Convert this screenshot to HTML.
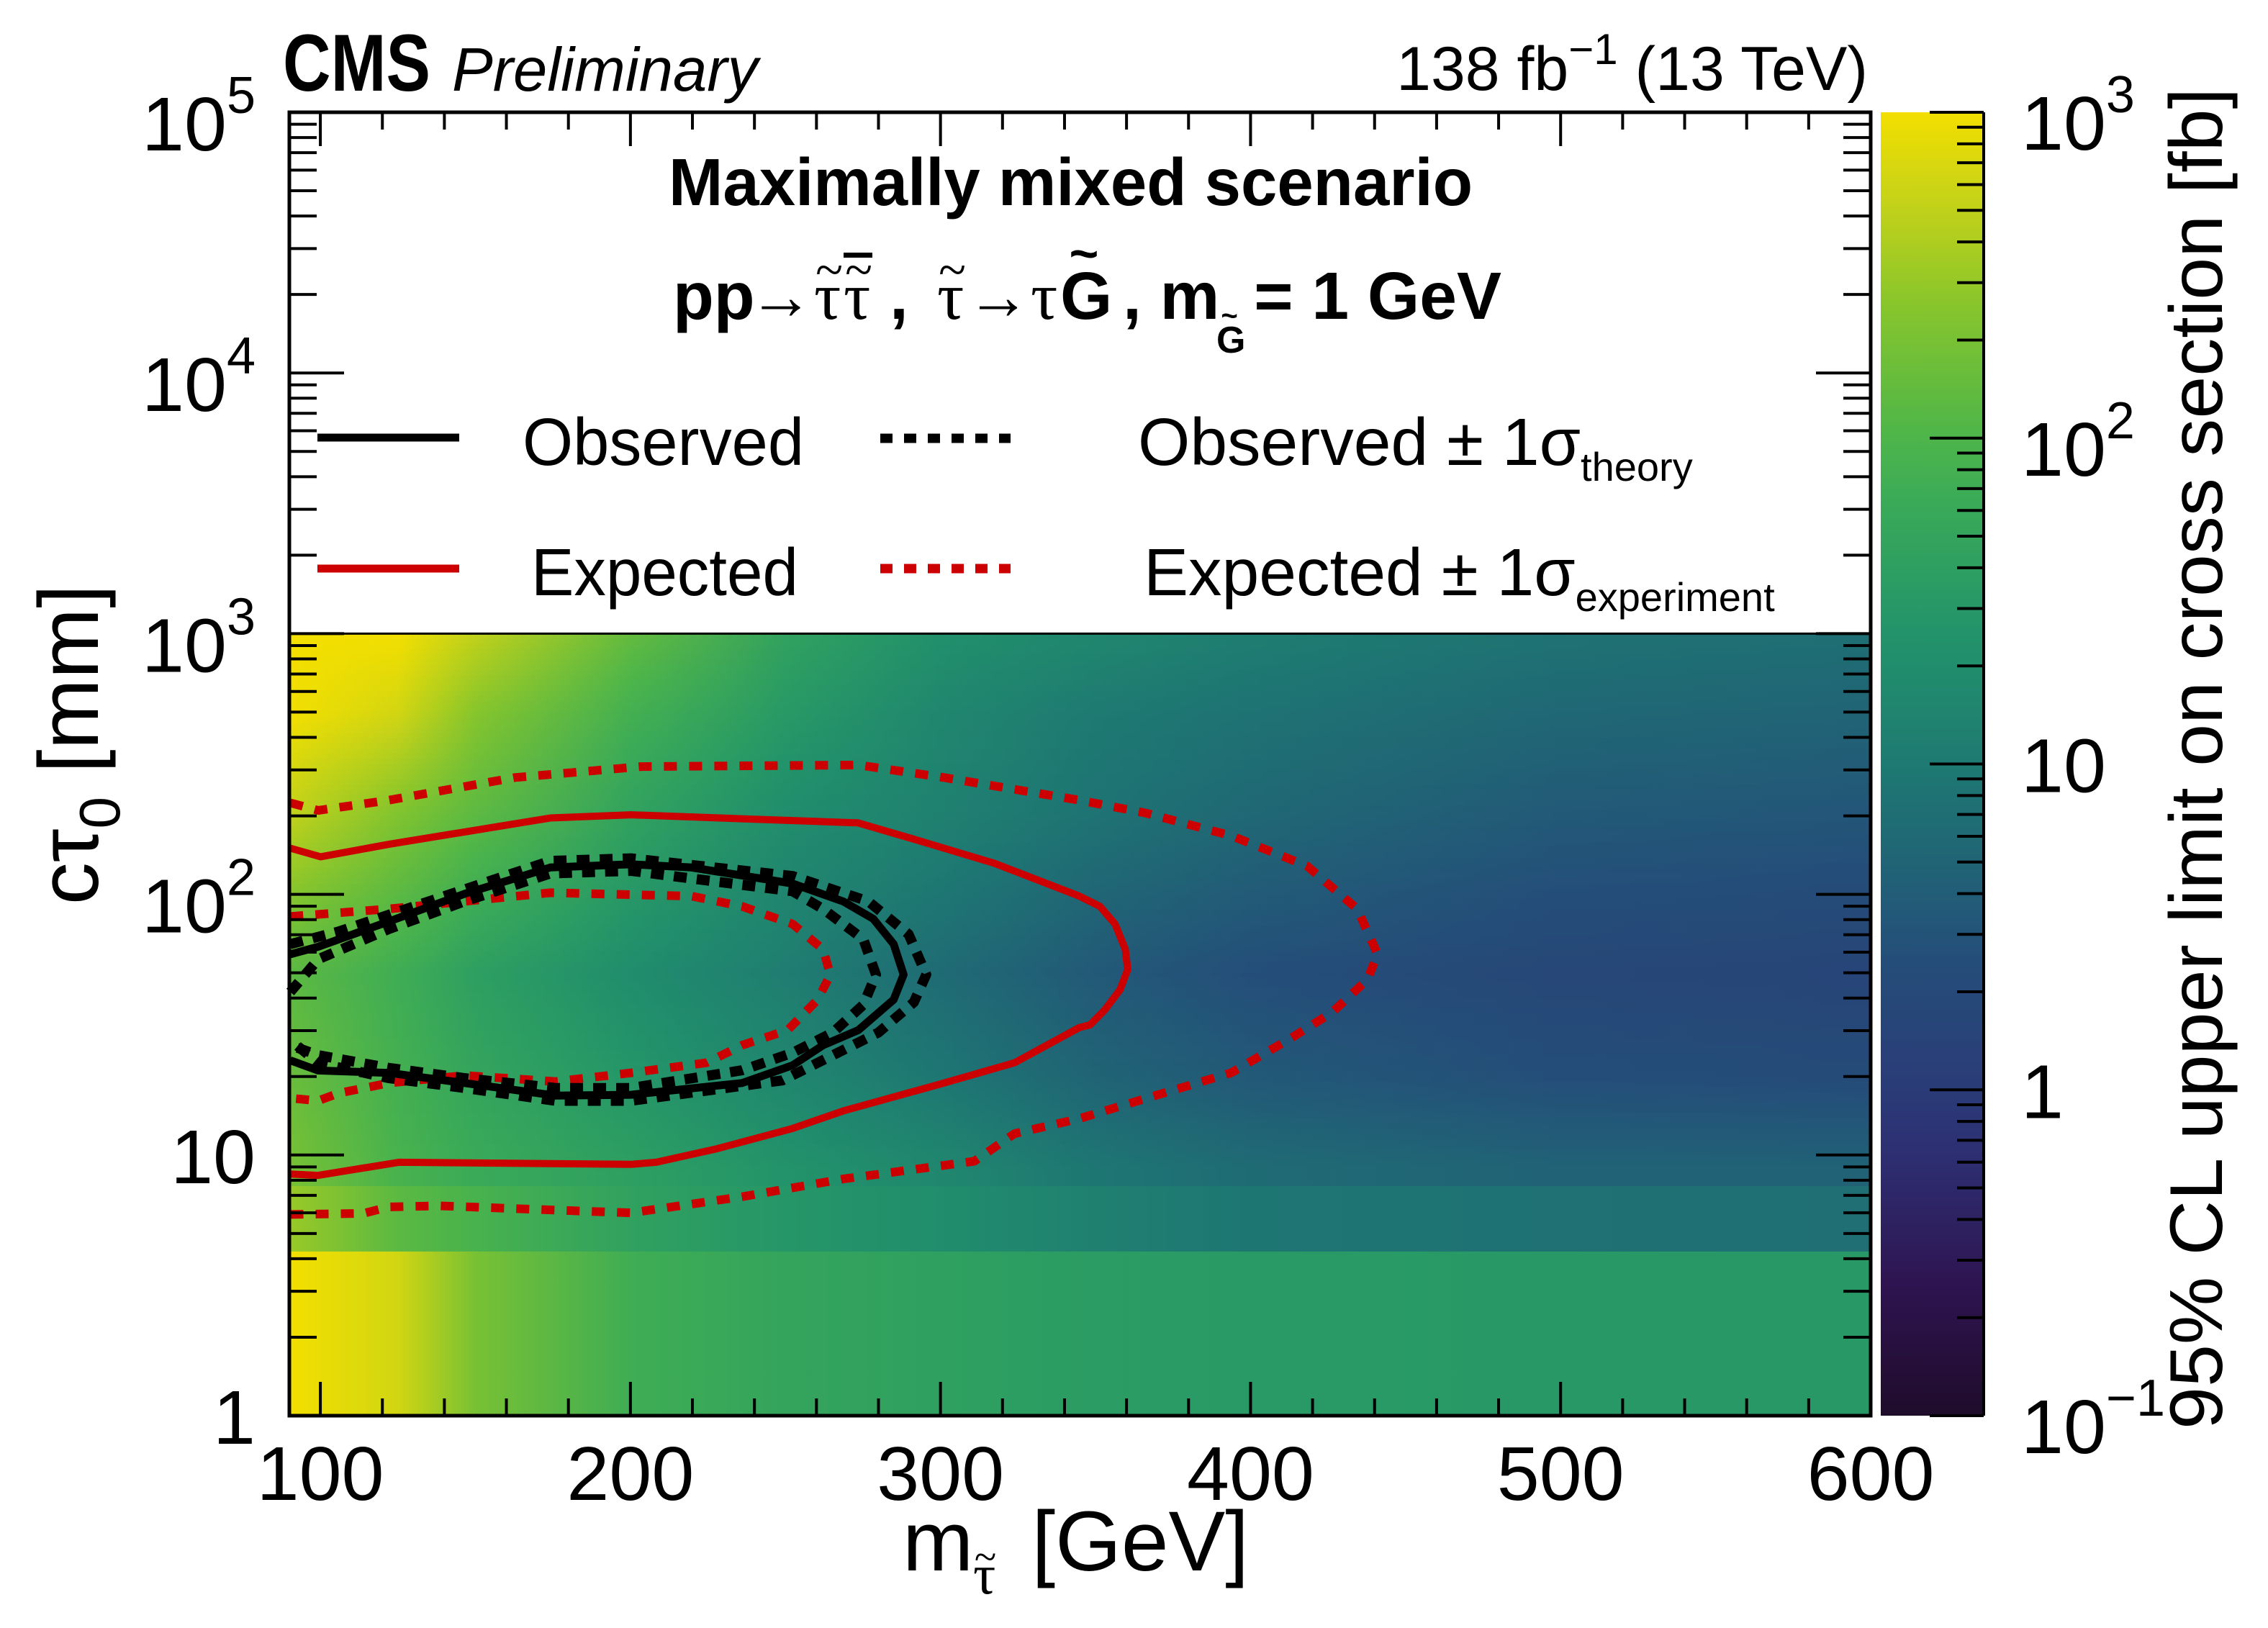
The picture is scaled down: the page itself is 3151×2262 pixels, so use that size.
<!DOCTYPE html>
<html><head><meta charset="utf-8"><style>
html,body{margin:0;padding:0;background:#fff;}
svg{display:block;font-family:"Liberation Sans",sans-serif;}
</style></head><body>
<svg id="chart" xmlns="http://www.w3.org/2000/svg" width="3151" height="2262" viewBox="0 0 3151 2262">
<defs id="defs"></defs>
<g id="heatmap"></g>
<g id="contours"></g>
<g id="axes"></g>
<g id="colorbar"></g>

<text x="393" y="126" font-size="112" font-weight="bold" textLength="205" lengthAdjust="spacingAndGlyphs">CMS</text>
<text x="628" y="126" font-size="85" font-style="italic">Preliminary</text>
<text x="2595" y="125" font-size="86" text-anchor="end">138 fb<tspan font-size="60" dy="-36">−1</tspan><tspan dy="36">&#160;(13 TeV)</tspan></text>

<text x="929" y="285" font-size="93" font-weight="bold" textLength="1117" lengthAdjust="spacingAndGlyphs">Maximally mixed scenario</text>

<g font-size="93">
<text x="935" y="443" font-weight="bold">pp</text>
<text x="1040" y="443" font-family="Liberation Serif, serif" textLength="90" lengthAdjust="spacingAndGlyphs">→</text>
<text x="1131" y="443" font-family="Liberation Serif, serif">τ</text>
<text x="1152" y="398" font-family="Liberation Serif, serif" font-size="70" text-anchor="middle">~</text>
<text x="1172" y="443" font-family="Liberation Serif, serif">τ</text>
<text x="1193" y="398" font-family="Liberation Serif, serif" font-size="70" text-anchor="middle">~</text>
<rect x="1172" y="351" width="40" height="7" fill="#000"/>
<text x="1236" y="443" font-weight="bold">,</text>
<text x="1302" y="443" font-family="Liberation Serif, serif">τ</text>
<text x="1323" y="398" font-family="Liberation Serif, serif" font-size="70" text-anchor="middle">~</text>
<text x="1343" y="443" font-family="Liberation Serif, serif" textLength="88" lengthAdjust="spacingAndGlyphs">→</text>
<text x="1432" y="443" font-family="Liberation Serif, serif">τ</text>
<text x="1473" y="443" font-weight="bold">G</text>
<text x="1506" y="376" font-weight="bold" font-size="70" text-anchor="middle">~</text>
<text x="1560" y="443" font-weight="bold">, m</text>
<text x="1690" y="490" font-weight="bold" font-size="52">G</text>
<text x="1708" y="452" font-weight="bold" font-size="40" text-anchor="middle">~</text>
<text x="2086" y="443" font-weight="bold" text-anchor="end">= 1 GeV</text>
</g>

<g>
<line x1="441" y1="608" x2="638" y2="608" stroke="#000" stroke-width="11"/>
<text x="726" y="646" font-size="93" textLength="391" lengthAdjust="spacingAndGlyphs">Observed</text>
<line x1="1223" y1="609" x2="1404" y2="609" stroke="#000" stroke-width="13" stroke-dasharray="17 16"/>
<text x="1581" y="646" font-size="93">Observed ± 1σ<tspan font-size="56" dy="22">theory</tspan></text>
<line x1="441" y1="790" x2="638" y2="790" stroke="#cc0000" stroke-width="11"/>
<text x="738" y="827" font-size="93" textLength="371" lengthAdjust="spacingAndGlyphs">Expected</text>
<line x1="1223" y1="790" x2="1404" y2="790" stroke="#cc0000" stroke-width="13" stroke-dasharray="17 16"/>
<text x="1589" y="827" font-size="93">Expected ± 1σ<tspan font-size="56" dy="22">experiment</tspan></text>
</g>

<g>
<text x="1254" y="2182" font-size="118">m</text>
<text x="1352" y="2214" font-size="78" font-family="Liberation Serif, serif">τ</text>
<text x="1369" y="2182" font-size="56" font-family="Liberation Serif, serif" text-anchor="middle">~</text>
<text x="1735" y="2182" font-size="118" text-anchor="end">[GeV]</text>
</g>
<text transform="translate(136,812) rotate(-90)" font-size="118" text-anchor="end">cτ<tspan font-size="80" dy="30">0</tspan><tspan dy="-30">&#160;[mm]</tspan></text>
<text transform="translate(3087,122) rotate(-90)" font-size="104" text-anchor="end" textLength="1864" lengthAdjust="spacingAndGlyphs">95% CL upper limit on cross section [fb]</text>
</svg>
<script>
// ---------- data ----------
const massNodes = [90,125,150,200,250,300,350,400,500,600];
// log10(sigma/fb) per ctau row (smooth region)
const rowLogCtau = [0.95,1.3,1.7,2.3,2.7,3.0];
const limRow095 = [2.3,1.95,1.8,1.6,1.4,1.2,0.95,0.8,0.68,0.68];
const limRow130 = [2.2,1.9,1.7,1.45,1.2,0.95,0.7,0.55,0.4,0.35];
const limRow170 = [2.1,1.85,1.6,1.3,1.05,0.8,0.55,0.4,0.25,0.2];
const limRow230 = [2.7,2.35,2.1,1.65,1.3,1.1,0.9,0.75,0.55,0.5];
const limRow270 = [3.0,2.8,2.4,1.9,1.5,1.2,1.0,0.9,0.75,0.7];
const limRow300 = [3.0,3.0,2.7,2.15,1.65,1.35,1.2,1.05,0.9,0.85];
const bandLowEdges = [0,0.632,0.883];
const limBandLow = [3.0,2.8,2.3,1.85,1.7,1.62,1.55,1.52,1.5,1.5];
const limBandMid = [2.5,2.1,1.95,1.65,1.45,1.3,1.1,0.95,0.88,0.85];

const expMass = [90.3,100.1,122.1,174.2,200.2,273.5,293.0,317.4,344.8,351.4,356.3,359.6,360.4,357.9,353.0,348.2,344.8,323.9,301.1,268.6,252.3,227.9,208.3,200.2,125.3,99.3,90.3];
const expLogCtau = [2.177,2.144,2.192,2.293,2.305,2.274,2.206,2.119,1.993,1.954,1.886,1.789,1.712,1.634,1.557,1.499,1.489,1.354,1.276,1.169,1.102,1.024,0.972,0.964,0.972,0.922,0.927];
const expOutMass = [90.3,99.3,122.1,162.8,203.5,273.5,301.1,344.8,366.1,393.7,418.2,434.4,441.0,437.7,426.3,413.3,393.7,369.3,344.9,323.9,310.9,268.6,236.0,208.3,200.2,138.3,122.1,113.9,90.3];
const expOutLogCtau = [2.351,2.322,2.361,2.448,2.490,2.496,2.448,2.361,2.312,2.225,2.109,1.944,1.770,1.673,1.547,1.450,1.315,1.228,1.140,1.082,0.976,0.908,0.840,0.792,0.778,0.805,0.801,0.776,0.772];
const expInMass = [90.3,122.1,174.2,219.7,236.0,252.3,262.1,264.5,260.4,250.7,236.0,224.6,200.2,175.8,146.5,122.1,105.8,99.3,90.3];
const expInLogCtau = [1.915,1.944,2.006,1.993,1.954,1.886,1.789,1.692,1.596,1.479,1.421,1.354,1.315,1.282,1.305,1.276,1.237,1.208,1.218];
const obsMass = [90.3,99.3,122.1,146.5,174.2,200.2,219.7,252.3,268.6,278.3,284.9,288.1,284.9,273.5,262.1,252.3,236.0,200.2,175.8,146.5,122.1,99.3,90.3];
const obsLogCtau = [1.770,1.799,1.896,2.002,2.103,2.115,2.103,2.041,1.973,1.906,1.809,1.692,1.596,1.479,1.421,1.344,1.276,1.231,1.228,1.276,1.315,1.324,1.363];
const obsUpMass = [90.3,105.8,130.2,154.6,174.2,200.2,252.3,276.7,289.7,295.4,291.4,280.0,265.3,249.0,200.2,175.8,146.5,122.1,99.3,90.3];
const obsUpLogCtau = [1.809,1.857,1.954,2.051,2.128,2.138,2.070,1.973,1.847,1.692,1.586,1.470,1.383,1.286,1.208,1.208,1.257,1.295,1.353,1.441];
const obsDnMass = [90.3,99.3,122.1,146.5,174.2,200.2,252.3,262.1,275.1,279.2,275.1,265.3,252.3,236.0,200.2,175.8,146.5,122.1,99.3,90.3];
const obsDnLogCtau = [1.625,1.751,1.867,1.973,2.080,2.090,2.012,1.944,1.828,1.692,1.576,1.470,1.392,1.325,1.257,1.257,1.295,1.334,1.383,1.421];

const xMajorTicks = [100,200,300,400,500,600];
const xTickLabels = ["100","200","300","400","500","600"];
const yDecades = [0,1,2,3,4,5];
const yBase = ["1","10","10","10","10","10"];
const yExp = ["","","2","3","4","5"];
const zDecades = [-1,0,1,2,3];
const zBase = ["10","1","10","10","10"];
const zExp = ["−1","","","2","3"];

// ---------- geometry ----------
const NS = "http://www.w3.org/2000/svg";
const PL = 402, PR = 2599, PT = 156, PB = 1967;
const XMIN = 90, XMAX = 600, YMIN = 0, YMAX = 5;
const X = m => PL + (m - XMIN) / (XMAX - XMIN) * (PR - PL);
const Y = lc => PB - (lc - YMIN) / (YMAX - YMIN) * (PB - PT);
const CBL = 2613, CBR = 2756;
const ZMIN = -1, ZMAX = 3;
const Z = v => PB - (v - ZMIN) / (ZMAX - ZMIN) * (PB - PT);

function mk(tag, attrs, parent) {
  const e = document.createElementNS(NS, tag);
  for (const k in attrs) e.setAttribute(k, attrs[k]);
  parent.appendChild(e);
  return e;
}

const cmT = [0,0.1,0.2,0.25,0.35,0.45,0.5,0.6,0.7,0.75,0.85,0.93,1.0];
const cmC = ["#1f0c2a","#2e1450","#2d2f72","#2a3b77","#244e79","#1f6b74","#1e7a72","#22936a","#3aaa58","#4db54a","#86c52c","#c4d219","#f3df00"];
function hex2rgb(h){return [parseInt(h.slice(1,3),16),parseInt(h.slice(3,5),16),parseInt(h.slice(5,7),16)];}
function colorOf(v) {
  let t = (v - ZMIN) / (ZMAX - ZMIN);
  t = Math.max(0, Math.min(1, t));
  for (let i = 0; i < cmT.length - 1; i++) {
    if (t <= cmT[i+1]) {
      const f = (t - cmT[i]) / (cmT[i+1] - cmT[i]);
      const a = hex2rgb(cmC[i]), b = hex2rgb(cmC[i+1]);
      return "rgb(" + a.map((c,j)=>Math.round(c + (b[j]-c)*f)).join(",") + ")";
    }
  }
  return cmC[cmC.length-1];
}

const defs = document.getElementById("defs");
const heat = document.getElementById("heatmap");
let gid = 0;
function gradRow(vals, y0, y1, name) {
  const id = "g" + (gid++);
  const lg = mk("linearGradient", {id: id, gradientUnits: "userSpaceOnUse", x1: PL, y1: 0, x2: PR, y2: 0}, defs);
  massNodes.forEach((m, i) => {
    mk("stop", {offset: ((X(m) - PL) / (PR - PL)).toFixed(4), "stop-color": colorOf(vals[i])}, lg);
  });
  const r = mk("rect", {x: PL, y: Math.min(y0,y1), width: PR - PL, height: Math.abs(y1 - y0) + 0.8, fill: "url(#" + id + ")"}, heat);
  
  
}
gradRow(limBandLow, Y(bandLowEdges[0]), Y(bandLowEdges[1]), 'heat-band-low');
gradRow(limBandMid, Y(bandLowEdges[1]), Y(bandLowEdges[2]), 'heat-band-mid');
const rows = [limRow095, limRow130, limRow170, limRow230, limRow270, limRow300];
const step = 0.02;
for (let lc = bandLowEdges[2]; lc < 3.0 - 1e-9; lc += step) {
  const c = Math.min(3.0, lc + step / 2);
  let vals;
  if (c <= rowLogCtau[0]) vals = rows[0];
  else {
    let k = 0;
    while (k < rowLogCtau.length - 2 && c > rowLogCtau[k+1]) k++;
    const f = Math.min(1, (c - rowLogCtau[k]) / (rowLogCtau[k+1] - rowLogCtau[k]));
    vals = rows[k].map((v, i) => v + (rows[k+1][i] - v) * f);
  }
  gradRow(vals, Y(lc), Y(Math.min(3.0, lc + step)), 'heat-cell-row');
}

const cg = document.getElementById("contours");
function contour(ms, ls, color, w, dash, name) {
  const d = ms.map((m, i) => (i ? "L" : "M") + X(m).toFixed(1) + "," + Y(ls[i]).toFixed(1)).join(" ");
  const p = mk("path", {d: d, fill: "none", stroke: color, "stroke-width": w, "stroke-linejoin": "round"}, cg);
  if (dash) p.setAttribute("stroke-dasharray", dash);
  
  
}
contour(expOutMass, expOutLogCtau, "#cc0000", 12, "18 17", "expected-plus-1sigma-contour");
contour(expInMass, expInLogCtau, "#cc0000", 12, "18 17", "expected-minus-1sigma-contour");
contour(expMass, expLogCtau, "#cc0000", 10, null, "expected-contour");
contour(obsUpMass, obsUpLogCtau, "#000", 14, "18 14", "observed-plus-theory-contour");
contour(obsDnMass, obsDnLogCtau, "#000", 14, "18 14", "observed-minus-theory-contour");
contour(obsMass, obsLogCtau, "#000", 11, null, "observed-contour");

const ax = document.getElementById("axes");
const border = mk("rect", {x: PL, y: PT, width: PR - PL, height: PB - PT, fill: "none", stroke: "#000", "stroke-width": 5}, ax);


const l3 = mk("line", {x1: PL, y1: Y(3), x2: PR, y2: Y(3), stroke: "#000", "stroke-width": 3}, ax);


function tick(x1,y1,x2,y2,name){
  const t = mk("line",{x1:x1,y1:y1,x2:x2,y2:y2,stroke:"#000","stroke-width":4},ax);
  
  
}
for (let m = 100; m <= 600; m += 20) {
  const major = (m % 100 === 0);
  const L = major ? 47 : 24;
  tick(X(m), PB, X(m), PB - L, 'x-tick');
  tick(X(m), PT, X(m), PT + L, 'x-tick-top');
}
xMajorTicks.forEach((m, i) => {
  const t = mk("text", {x: X(m), y: 2084, "font-size": 106, "text-anchor": "middle"}, ax);
  t.textContent = xTickLabels[i];
  
  
});
for (let d = 0; d < 5; d++) {
  for (let k = 1; k <= 9; k++) {
    const lc = d + Math.log10(k);
    const L = k === 1 ? 76 : 38;
    tick(PL, Y(lc), PL + L, Y(lc), 'y-tick');
    tick(PR, Y(lc), PR - L, Y(lc), 'y-tick-right');
  }
}
yDecades.forEach((d, i) => {
  const t = mk("text", {x: 355, y: Y(d) + (yExp[i] ? 53 : 39), "font-size": 106, "text-anchor": "end"}, ax);
  t.textContent = yBase[i];
  if (yExp[i]) {
    const s = mk("tspan", {"font-size": 72, dy: -52}, t);
    s.textContent = yExp[i];
  }
  
  
});

const cb = document.getElementById("colorbar");
const cgId = "cbgrad";
const lg = mk("linearGradient", {id: cgId, x1: 0, y1: 1, x2: 0, y2: 0}, defs);
for (let i = 0; i <= 40; i++) {
  mk("stop", {offset: (i / 40).toFixed(3), "stop-color": colorOf(ZMIN + (ZMAX - ZMIN) * i / 40)}, lg);
}
const cbr = mk("rect", {x: CBL, y: PT, width: CBR - CBL, height: PB - PT, fill: "url(#" + cgId + ")"}, cb);


const cbe = mk("line", {x1: CBR, y1: PT, x2: CBR, y2: PB, stroke: "#000", "stroke-width": 4}, cb);


for (let d = -1; d < 3; d++) {
  for (let k = 1; k <= 9; k++) {
    const v = d + Math.log10(k);
    const L = k === 1 ? 75 : 37;
    const t = mk("line", {x1: CBR, y1: Z(v), x2: CBR - L, y2: Z(v), stroke: "#000", "stroke-width": 4}, cb);
    
    
  }
}
const tt = mk("line", {x1: CBR, y1: Z(3), x2: CBR - 75, y2: Z(3), stroke: "#000", "stroke-width": 4}, cb);


zDecades.forEach((d, i) => {
  const t = mk("text", {x: 2808, y: Z(d) + (zExp[i] ? 52 : 39), "font-size": 106}, cb);
  t.textContent = zBase[i];
  if (zExp[i]) {
    const s = mk("tspan", {"font-size": 72, dy: -52}, t);
    s.textContent = zExp[i];
  }
  
  
});
</script>
</body></html>
